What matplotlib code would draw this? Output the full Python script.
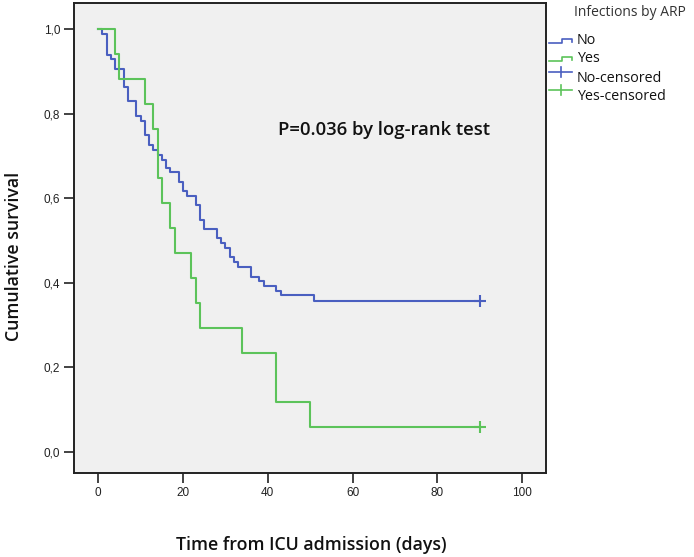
import matplotlib
matplotlib.use('Agg')
import matplotlib.pyplot as plt
from matplotlib.lines import Line2D

# Kaplan-Meier step values
days_no = [0, 1, 2, 3, 4, 6, 7, 9, 10, 11, 12, 13, 14, 15, 16, 17, 19, 20, 21,
           23, 24, 25, 28, 29, 30, 31, 32, 33, 36, 38, 39, 42, 43, 51]
surv_no = [1.0, 0.988, 0.939, 0.929, 0.905, 0.863, 0.829, 0.794, 0.782, 0.750,
           0.726, 0.714, 0.702, 0.690, 0.672, 0.661, 0.639, 0.617, 0.605, 0.583,
           0.548, 0.527, 0.505, 0.494, 0.483, 0.461, 0.450, 0.438, 0.414, 0.404,
           0.393, 0.381, 0.370, 0.357]
days_yes = [0, 4, 5, 11, 13, 14, 15, 17, 18, 22, 23, 24, 34, 42, 50]
surv_yes = [1.0, 0.941, 0.882, 0.824, 0.765, 0.647, 0.588, 0.529, 0.471, 0.412,
            0.353, 0.294, 0.235, 0.118, 0.059]
censor_day = 90

x_ticks = [0, 20, 40, 60, 80, 100]
y_ticks = [0.0, 0.2, 0.4, 0.6, 0.8, 1.0]
legend_labels = ['No', 'Yes', 'No-censored', 'Yes-censored']

BLUE = '#4a5fc0'
GREEN = '#5cc35a'
label_font = 'Open Sans'
tick_font = 'Liberation Sans'

fig = plt.figure(figsize=(6.94, 5.57), dpi=100)
ax = fig.add_axes([74/694, 1 - 473/557, (546 - 74)/694, (473 - 3)/557])
ax.set_facecolor('#f0f0f0')

for days, surv, col in [(days_no, surv_no, BLUE), (days_yes, surv_yes, GREEN)]:
    xs = list(days) + [censor_day]
    ys = list(surv) + [surv[-1]]
    ax.step(xs, ys, where='post', color=col, lw=1.5)
    ax.plot([censor_day], [surv[-1]], marker='+', ms=8, mew=1.5, color=col)

ax.set_xlim(-5.7, 105.6)
ax.set_ylim(-0.05, 1.062)
ax.set_xticks(x_ticks)
ax.set_yticks(y_ticks)
ax.set_yticklabels(['{:.1f}'.format(v).replace('.', ',') for v in y_ticks])
ax.tick_params(length=7, width=1.2, pad=3, labelsize=8.5, colors='#222222')
for lab in ax.get_xticklabels() + ax.get_yticklabels():
    lab.set_fontfamily(tick_font)
for sp in ax.spines.values():
    sp.set_linewidth(1.4)
    sp.set_color('#222222')

ax.text(0.432, 0.730, 'P=0.036 by log-rank test', transform=ax.transAxes,
        fontsize=13.3, family=label_font, weight='semibold', color='#111111',
        va='center')

fig.text(311/694, 1 - 545/557, 'Time from ICU admission (days)', ha='center',
         va='center', fontsize=12.8, family=label_font, weight='semibold',
         color='#111111')
fig.text(14/694, 1 - 256/557, 'Cumulative survival', ha='center', va='center',
         rotation=90, fontsize=12.8, family=label_font, weight='semibold',
         color='#111111')

# legend drawn by hand in figure pixel space
lg = fig.add_axes([0, 0, 1, 1], facecolor='none')
lg.set_xlim(0, 694)
lg.set_ylim(557, 0)
lg.axis('off')
lg.text(574, 13, 'Infections by ARP', fontsize=10, family=label_font,
        color='#333333', va='center')
rows_y = [41, 59, 78, 96]
for i, (lab, ry) in enumerate(zip(legend_labels, rows_y)):
    col = BLUE if i % 2 == 0 else GREEN
    if i < 2:
        lg.add_line(Line2D([549, 562, 562, 572, 572], [ry + 2, ry + 2, ry - 2, ry - 2, ry + 1],
                           color=col, lw=1.2))
    else:
        lg.add_line(Line2D([549, 572], [ry - 6, ry - 6], color=col, lw=1.2))
        lg.add_line(Line2D([561, 561], [ry - 11, ry - 1], color=col, lw=1.2))
    lg.text(577, ry, lab, fontsize=10.3, family=label_font, color='#111111',
            va='center')

fig.savefig('out.png', dpi=100, facecolor='white')
